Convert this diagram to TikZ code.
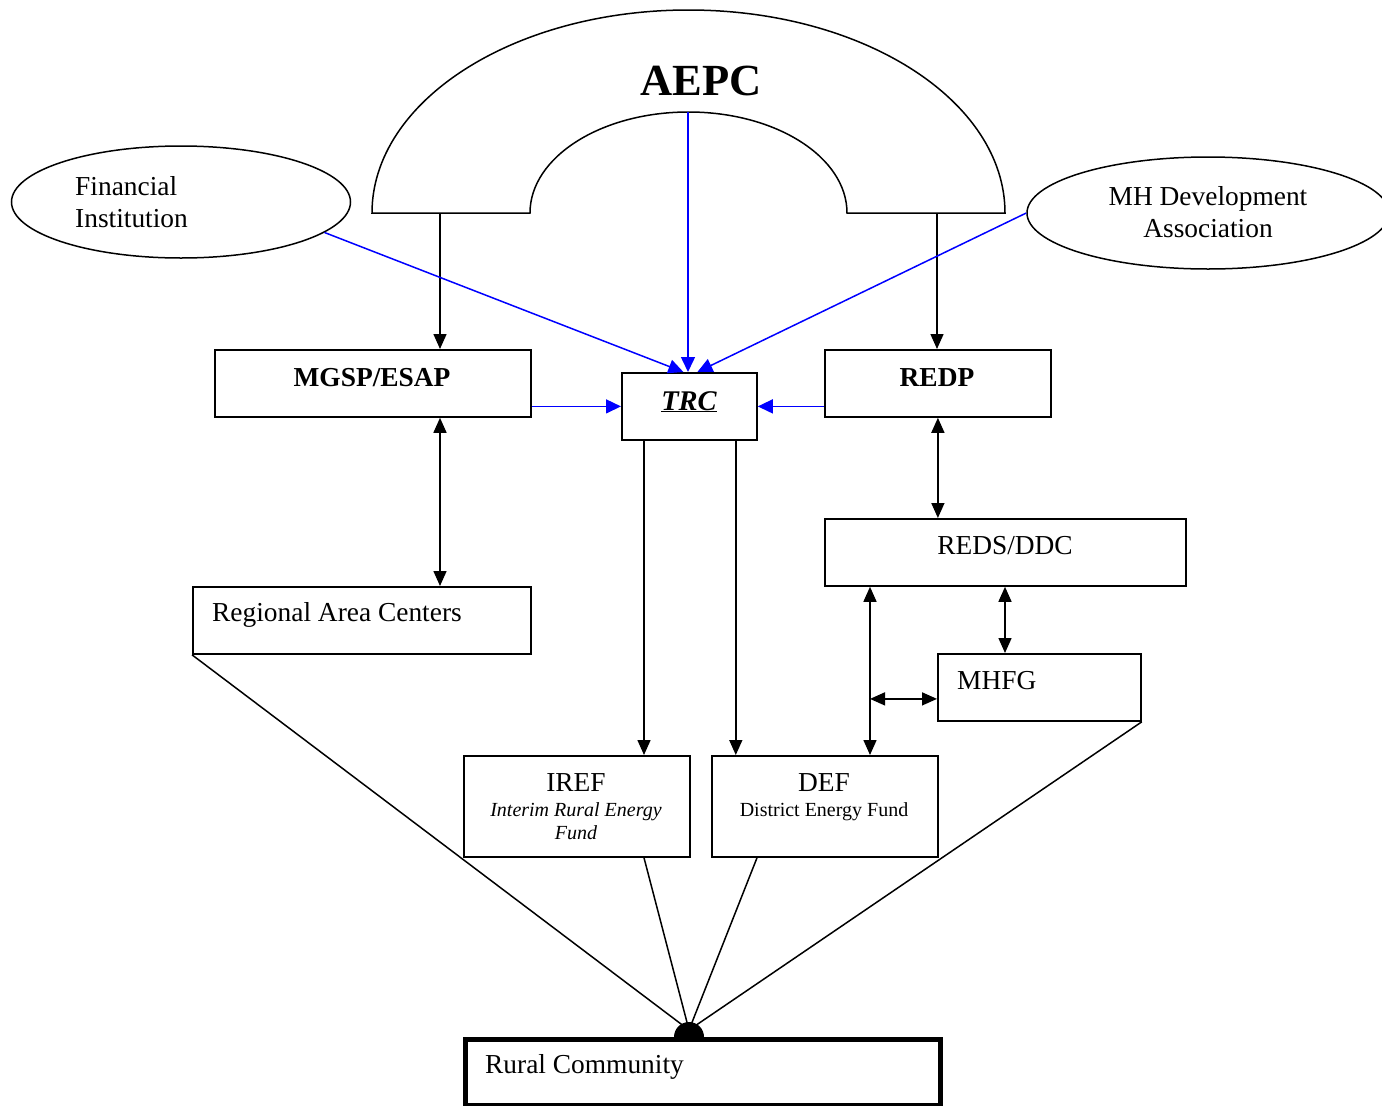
\documentclass[tikz,border=0pt]{standalone}
\usepackage{fontspec}
\setmainfont{Liberation Serif}
\usetikzlibrary{arrows.meta,shapes.geometric,calc}
\begin{document}
\begin{tikzpicture}[x=1pt,y=-1pt,
  box/.style={draw, line width=1.8pt, inner sep=0pt, anchor=north west},
  ell/.style={draw, ellipse, line width=1.5pt, inner sep=0pt},
  txt/.style={inner sep=0pt, font=\fontsize{27.4pt}{32pt}\selectfont},
  small/.style={inner sep=0pt, font=\fontsize{20pt}{24pt}\selectfont},
  tip/.tip={Triangle[length=15pt,width=13pt]},
  btip/.tip={Triangle[length=15pt,width=14pt]},
  arr/.style={-tip, line width=1.5pt},
  darr/.style={tip-tip, line width=1.5pt},
  barr/.style={-btip, line width=1.5pt, blue},
  ln/.style={line width=1.5pt}
]
\useasboundingbox (0,0) rectangle (1382,1106);
\fill[white] (0,0) rectangle (1382,1106);

% AEPC arch
\draw[line width=1.5pt] (372,213) arc[start angle=180,end angle=360,x radius=316.5,y radius=203]
  -- (847,213) arc[start angle=0,end angle=-180,x radius=158.5,y radius=101] -- cycle;
\node[inner sep=0pt, anchor=base, font=\fontsize{44.5pt}{50pt}\selectfont\bfseries] (aepc) at (701,95) {AEPC};
\coordinate (aepcl) at (440,213);
\coordinate (aepcr) at (937,213);
\coordinate (aepcin) at (688,112);

% ellipses
\node[ell, minimum width=339pt, minimum height=112pt] (fin) at (181,202) {};
\node[txt, anchor=base west] (fint1) at (75,195) {Financial};
\node[txt, anchor=base west] (fint2) at (75,227) {Institution};
\node[ell, minimum width=362pt, minimum height=112pt] (mh) at (1208,213) {};
\node[txt, anchor=base] (mht1) at (1208,205) {MH Development};
\node[txt, anchor=base] (mht2) at (1208,237) {Association};

% boxes
\node[box, minimum width=316pt, minimum height=67pt] (mgsp) at (214,349) {};
\node[box, minimum width=135pt, minimum height=67pt] (trc) at (621,372) {};
\node[box, minimum width=226pt, minimum height=67pt] (redp) at (824,349) {};
\node[box, minimum width=361pt, minimum height=67pt] (reds) at (824,518) {};
\node[box, minimum width=338pt, minimum height=67pt] (rac) at (192,586) {};
\node[box, minimum width=203pt, minimum height=67pt] (mhfg) at (937,653) {};
\node[box, minimum width=226pt, minimum height=101pt] (iref) at (463,755) {};
\node[box, minimum width=226pt, minimum height=101pt] (def) at (711,755) {};
\node[box, line width=5pt, minimum width=475pt, minimum height=66pt] (rural) at (463,1037) {};

% texts
\node[txt, anchor=base] (mgspt) at (372,386) {\bfseries MGSP/ESAP};
\node[inner sep=0pt, anchor=base, font=\fontsize{28.5pt}{32pt}\selectfont\bfseries\itshape] (trct) at (689,410) {\underline{TRC}};
\node[txt, anchor=base] (redpt) at (937,386) {\bfseries REDP};
\node[txt, anchor=base] (redst) at (1005,554) {REDS/DDC};
\node[txt, anchor=base west] (ract) at (212,621) {Regional Area Centers};
\node[txt, anchor=base west] (mhfgt) at (957,689) {MHFG};
\node[txt, anchor=base] (reft) at (576,791) {IREF};
\node[small, anchor=base] (reft2) at (576,816) {\itshape Interim Rural Energy};
\node[small, anchor=base] (reft3) at (576,839) {\itshape Fund};
\node[txt, anchor=base] (deft) at (824,791) {DEF};
\node[small, anchor=base] (deft2) at (824,816) {District Energy Fund};
\node[txt, anchor=base west] (ruralt) at (485,1073) {Rural Community};

% AEPC arrows
\draw[arr] (aepcl) -- (mgsp.north -| aepcl);
\draw[arr] (aepcr) -- (redp.north -| aepcr);
\draw[barr] (aepcin) -- (trc.north -| aepcin);
\draw[barr] (fin.-12) -- ($(trc.north)+(-6,0)$);
\draw[barr] (mh.west) -- ($(trc.north)+(8,0)$);
\draw[barr] (mgsp.east |- trc.west) -- (trc.west);
\draw[barr] (redp.west |- trc.east) -- (trc.east);

% vertical links
\draw[darr] (mgsp.south -| aepcl) -- (rac.north -| aepcl);
\draw[darr] (redp.south) -- (reds.north -| redp.south);
\coordinate (ta) at ($(trc.south west)+(23,0)$);
\coordinate (tb) at ($(trc.south east)+(-22,0)$);
\draw[arr] (ta) -- (iref.north -| ta);
\draw[arr] (tb) -- (def.north -| tb);
\coordinate (ra) at ($(reds.south west)+(46,0)$);
\coordinate (rb) at ($(reds.south west)+(181,0)$);
\draw[darr] (ra) -- (def.north -| ra);
\draw[darr] (rb) -- (mhfg.north -| rb);
\coordinate (mq) at ($(mhfg.west)+(0,11.5)$);
\draw[darr] (ra |- mq) -- (mq);

% to rural community
\coordinate (rc) at (689,1030);
\coordinate (da) at ($(def.south west)+(46,0)$);
\draw[ln] (rac.south west) -- (rc);
\draw[ln] (iref.south -| ta) -- (rc);
\draw[ln] (da) -- (rc);
\draw[ln] (mhfg.south east) -- (rc);
\fill ($(rc |- rural.north)+(-15,0)$) arc[start angle=180,end angle=360,radius=15] -- cycle;
\end{tikzpicture}
\end{document}
